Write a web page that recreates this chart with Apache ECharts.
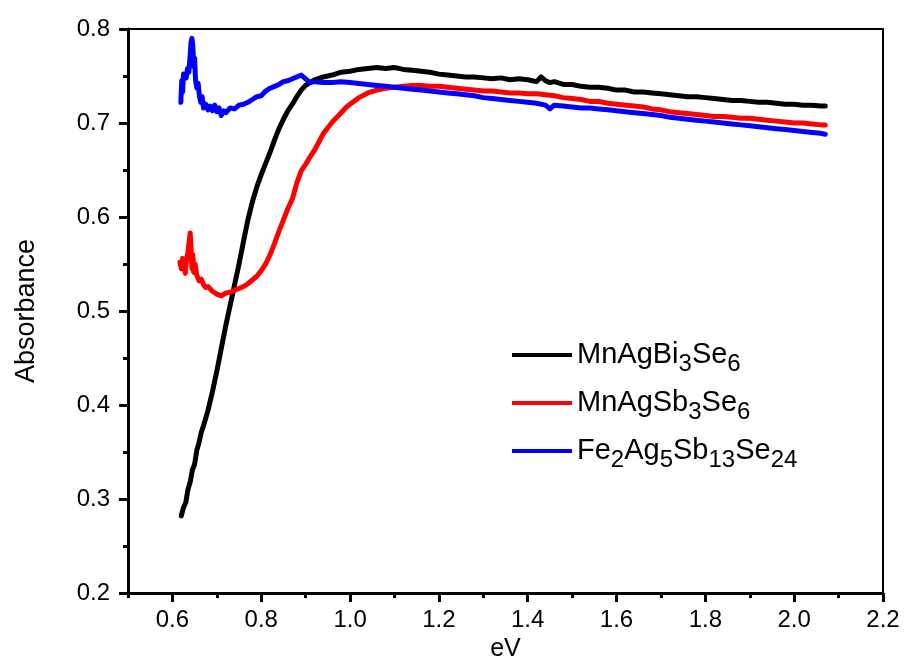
<!DOCTYPE html>
<html>
<head>
<meta charset="utf-8">
<script src="https://cdn.jsdelivr.net/npm/echarts@6/dist/echarts.min.js"></script>
<style>
  html, body { margin: 0; padding: 0; background: #fff; }
  #chart { width: 906px; height: 659px; }
</style>
</head>
<body>
<div id="chart"></div>
<script>
// Absorbance spectra (eV vs absorbance)
const xBi = [0.620,0.625,0.630,0.635,0.640,0.645,0.650,0.655,0.660,0.665,0.670,0.680,0.690,0.700,0.710,0.720,0.730,0.740,0.750,0.760,0.770,0.780,0.790,0.800,0.810,0.820,0.830,0.840,0.850,0.860,0.870,0.880,0.890,0.900,0.910,0.920,0.940,0.960,0.980,1.000,1.020,1.040,1.060,1.080,1.100,1.120,1.140,1.160,1.180,1.200,1.220,1.240,1.260,1.280,1.300,1.320,1.340,1.360,1.380,1.400,1.420,1.430,1.440,1.450,1.460,1.480,1.500,1.520,1.540,1.560,1.580,1.600,1.620,1.640,1.660,1.680,1.700,1.720,1.740,1.760,1.780,1.800,1.820,1.840,1.860,1.880,1.900,1.920,1.940,1.960,1.980,2.000,2.020,2.040,2.060,2.070];
const yBi = [0.282,0.291,0.296,0.310,0.318,0.331,0.337,0.352,0.360,0.371,0.378,0.394,0.414,0.436,0.460,0.484,0.506,0.528,0.550,0.574,0.597,0.616,0.632,0.645,0.657,0.669,0.682,0.694,0.704,0.713,0.720,0.728,0.735,0.740,0.743,0.746,0.749,0.751,0.754,0.755,0.757,0.758,0.759,0.758,0.759,0.757,0.756,0.755,0.754,0.752,0.751,0.750,0.749,0.749,0.748,0.747,0.748,0.746,0.747,0.746,0.744,0.749,0.745,0.743,0.744,0.741,0.741,0.739,0.738,0.738,0.737,0.735,0.735,0.733,0.733,0.732,0.731,0.730,0.729,0.728,0.728,0.727,0.726,0.725,0.724,0.724,0.723,0.722,0.722,0.721,0.720,0.720,0.719,0.719,0.718,0.718];

const xSb = [0.617,0.620,0.623,0.626,0.629,0.632,0.635,0.638,0.640,0.642,0.644,0.646,0.648,0.651,0.655,0.660,0.665,0.670,0.675,0.680,0.690,0.700,0.710,0.720,0.730,0.740,0.750,0.760,0.770,0.780,0.790,0.800,0.810,0.820,0.830,0.840,0.850,0.860,0.870,0.880,0.890,0.900,0.910,0.920,0.930,0.940,0.950,0.960,0.970,0.980,0.990,1.000,1.020,1.040,1.060,1.080,1.100,1.120,1.140,1.160,1.180,1.200,1.220,1.240,1.260,1.280,1.300,1.320,1.340,1.360,1.380,1.400,1.420,1.440,1.460,1.480,1.500,1.520,1.540,1.560,1.580,1.600,1.620,1.640,1.660,1.680,1.700,1.720,1.740,1.760,1.780,1.800,1.820,1.840,1.860,1.880,1.900,1.920,1.940,1.960,1.980,2.000,2.020,2.040,2.060,2.070];
const ySb = [0.552,0.545,0.556,0.548,0.540,0.556,0.562,0.575,0.583,0.566,0.545,0.560,0.541,0.550,0.538,0.532,0.534,0.528,0.525,0.526,0.521,0.518,0.516,0.519,0.520,0.522,0.524,0.526,0.529,0.533,0.537,0.543,0.550,0.560,0.572,0.585,0.597,0.609,0.619,0.636,0.649,0.656,0.664,0.671,0.680,0.689,0.695,0.701,0.706,0.711,0.716,0.720,0.727,0.732,0.735,0.737,0.738,0.739,0.740,0.740,0.739,0.739,0.738,0.737,0.736,0.735,0.734,0.734,0.733,0.732,0.732,0.731,0.731,0.730,0.729,0.727,0.726,0.725,0.723,0.723,0.721,0.720,0.719,0.718,0.717,0.715,0.714,0.712,0.711,0.710,0.709,0.708,0.707,0.707,0.706,0.705,0.705,0.704,0.703,0.702,0.701,0.700,0.700,0.699,0.698,0.698];

const xFe = [0.619,0.621,0.623,0.625,0.628,0.631,0.634,0.637,0.640,0.642,0.644,0.646,0.648,0.650,0.652,0.655,0.658,0.661,0.664,0.667,0.670,0.675,0.680,0.685,0.690,0.695,0.700,0.705,0.710,0.715,0.720,0.730,0.740,0.750,0.760,0.770,0.780,0.790,0.800,0.810,0.820,0.830,0.840,0.850,0.860,0.870,0.880,0.890,0.900,0.910,0.920,0.940,0.960,0.980,1.000,1.020,1.040,1.060,1.080,1.100,1.120,1.140,1.160,1.180,1.200,1.220,1.240,1.260,1.280,1.300,1.320,1.340,1.360,1.380,1.400,1.420,1.440,1.450,1.460,1.480,1.500,1.520,1.540,1.560,1.580,1.600,1.620,1.640,1.660,1.680,1.700,1.720,1.740,1.760,1.780,1.800,1.820,1.840,1.860,1.880,1.900,1.920,1.940,1.960,1.980,2.000,2.020,2.040,2.060,2.070];
const yFe = [0.722,0.745,0.733,0.752,0.754,0.748,0.758,0.754,0.772,0.786,0.790,0.782,0.760,0.769,0.746,0.737,0.742,0.728,0.722,0.728,0.716,0.720,0.714,0.718,0.713,0.719,0.712,0.716,0.708,0.713,0.711,0.716,0.715,0.719,0.720,0.722,0.725,0.728,0.729,0.734,0.737,0.739,0.741,0.744,0.745,0.747,0.749,0.751,0.747,0.743,0.744,0.743,0.743,0.744,0.743,0.742,0.741,0.740,0.739,0.738,0.737,0.736,0.735,0.734,0.733,0.732,0.731,0.730,0.729,0.727,0.726,0.725,0.724,0.723,0.722,0.721,0.719,0.715,0.719,0.718,0.717,0.716,0.716,0.715,0.714,0.713,0.712,0.711,0.710,0.709,0.708,0.706,0.705,0.704,0.703,0.702,0.701,0.700,0.699,0.698,0.697,0.696,0.695,0.694,0.693,0.692,0.691,0.690,0.689,0.688];

// Axis ticks
const xMajor = [0.6, 0.8, 1.0, 1.2, 1.4, 1.6, 1.8, 2.0, 2.2];
const xMinor = [0.5, 0.7, 0.9, 1.1, 1.3, 1.5, 1.7, 1.9, 2.1];

// Legend names, written as rich-text runs with subscripts
const seriesNames = ['MnAgBi3Se6', 'MnAgSb3Se6', 'Fe2Ag5Sb13Se24'];
const seriesLabels = {
  'MnAgBi3Se6': '{a|MnAgBi}{b|3}{a|Se}{b|6}',
  'MnAgSb3Se6': '{a|MnAgSb}{b|3}{a|Se}{b|6}',
  'Fe2Ag5Sb13Se24': '{a|Fe}{b|2}{a|Ag}{b|5}{a|Sb}{b|13}{a|Se}{b|24}'
};
const seriesColors = ['#000000', '#ff0000', '#0000ff'];

const pairs = (xs, ys) => xs.map((x, i) => [x, ys[i]]);
const seriesData = [pairs(xBi, yBi), pairs(xSb, ySb), pairs(xFe, yFe)];

const FONT = '"Liberation Sans", Arial, sans-serif';

const chart = echarts.init(document.getElementById('chart'), null, { renderer: 'canvas' });
chart.setOption({
  backgroundColor: '#ffffff',
  animation: false,
  grid: {
    left: 128, right: 23, top: 29, bottom: 66,
    outerBoundsMode: 'none',
    containLabel: false,
    show: true, borderColor: '#000', borderWidth: 2, backgroundColor: 'transparent'
  },
  legend: {
    orient: 'vertical',
    left: 512, top: 334,
    padding: 0,
    itemGap: 6,
    itemWidth: 60, itemHeight: 4,
    icon: 'rect',
    data: seriesNames,
    formatter: name => seriesLabels[name],
    textStyle: {
      color: '#000',
      fontFamily: FONT,
      fontSize: 29,
      rich: {
        a: { fontSize: 29, lineHeight: 36, fontFamily: FONT, color: '#000' },
        b: { fontSize: 24, lineHeight: 23, padding: [18, 0, 0, 0], fontFamily: FONT, color: '#000' }
      }
    }
  },
  xAxis: [{
    type: 'value', min: 0.5, max: 2.2,
    name: 'eV', nameLocation: 'middle', nameGap: 44,
    nameTextStyle: { fontSize: 25, fontFamily: FONT, color: '#000' },
    axisLine: { show: true, onZero: false, lineStyle: { color: '#000', width: 3 } },
    axisTick: { show: true, customValues: xMajor, length: 9, lineStyle: { color: '#000', width: 3 } },
    axisLabel: {
      customValues: xMajor, margin: 15,
      formatter: v => v.toFixed(1),
      fontSize: 24, fontFamily: FONT, color: '#000'
    },
    splitLine: { show: false }
  }, {
    type: 'value', min: 0.5, max: 2.2, position: 'bottom', gridIndex: 0,
    axisLine: { show: false },
    axisTick: { show: true, customValues: xMinor, length: 5, lineStyle: { color: '#000', width: 3 } },
    axisLabel: { show: false },
    splitLine: { show: false }
  }],
  yAxis: {
    type: 'value', min: 0.2, max: 0.8, interval: 0.1,
    name: 'Absorbance', nameLocation: 'middle', nameGap: 88,
    nameTextStyle: { fontSize: 27, fontFamily: FONT, color: '#000' },
    axisLine: { show: true, onZero: false, lineStyle: { color: '#000', width: 3 } },
    axisTick: { show: true, length: 9, lineStyle: { color: '#000', width: 3 } },
    minorTick: { show: true, splitNumber: 2, length: 5, lineStyle: { color: '#000', width: 3 } },
    axisLabel: {
      margin: 18, formatter: v => v.toFixed(1),
      fontSize: 24, fontFamily: FONT, color: '#000'
    },
    splitLine: { show: false }
  },
  series: seriesNames.map((name, i) => ({
    name: name,
    type: 'line',
    xAxisIndex: 0,
    data: seriesData[i],
    showSymbol: false,
    symbol: 'none',
    smooth: false,
    color: seriesColors[i],
    lineStyle: { color: seriesColors[i], width: 5, join: 'round', cap: 'round' }
  }))
});
</script>
</body>
</html>
